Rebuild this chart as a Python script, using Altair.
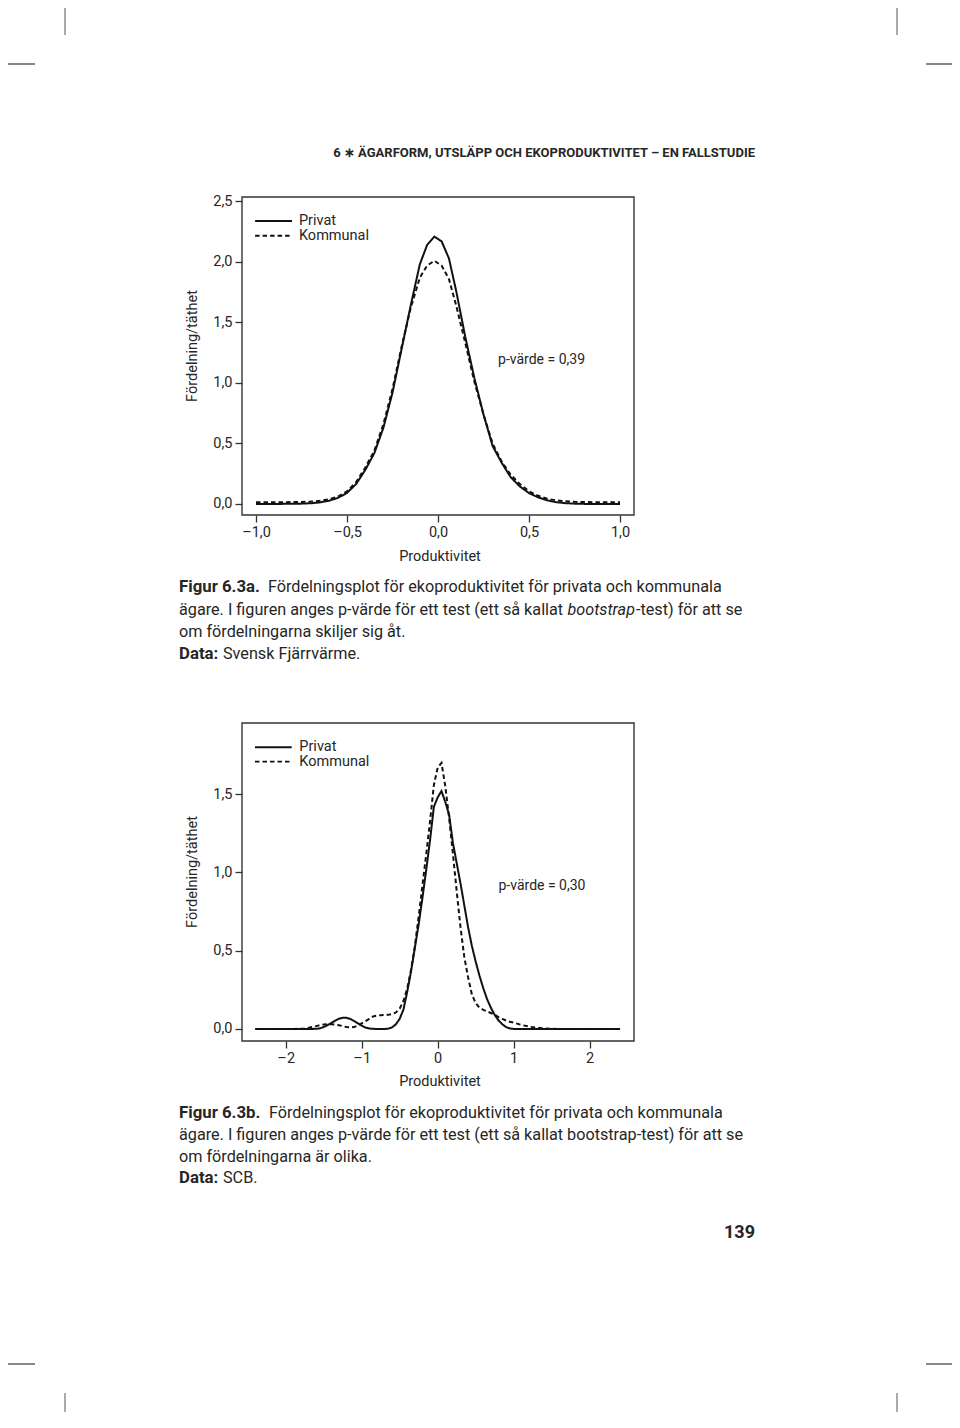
import altair as alt
import pandas as pd

# ---------------- data ----------------
series_names = ["Privat", "Kommunal"]

# Figure 6.3a
xa = [-1.0, -0.95, -0.9, -0.85, -0.8, -0.75, -0.7, -0.65, -0.6, -0.55, -0.5,
      -0.45, -0.4, -0.35, -0.3, -0.25, -0.2, -0.15, -0.1, -0.06, -0.02, 0.02,
      0.06, 0.1, 0.15, 0.2, 0.25, 0.3, 0.35, 0.4, 0.45, 0.5, 0.55, 0.6, 0.65,
      0.7, 0.75, 0.8, 0.85, 0.9, 0.95, 1.0]
privat_a = [0.0, 0.0, 0.0, 0.001, 0.001, 0.003, 0.006, 0.013, 0.027, 0.05, 0.092,
            0.165, 0.28, 0.42, 0.63, 0.92, 1.28, 1.64, 1.98, 2.14, 2.21, 2.17,
            2.03, 1.76, 1.38, 1.04, 0.74, 0.48, 0.34, 0.22, 0.145, 0.09, 0.055, 0.03, 0.015,
            0.007, 0.003, 0.001, 0.0, 0.0, 0.0, 0.0]
kommunal_a = [0.014, 0.014, 0.015, 0.015, 0.016, 0.017, 0.02, 0.026, 0.038, 0.06, 0.105,
              0.18, 0.30, 0.44, 0.66, 0.95, 1.30, 1.62, 1.87, 1.97, 2.01, 1.97,
              1.86, 1.64, 1.33, 1.01, 0.74, 0.50, 0.35, 0.24, 0.165, 0.105, 0.068, 0.043, 0.03,
              0.022, 0.018, 0.016, 0.015, 0.014, 0.014, 0.014]

# Figure 6.3b
xb = [-2.4, -2.2, -2.0, -1.9,
      -1.8, -1.75, -1.7, -1.65, -1.6, -1.55, -1.5, -1.45, -1.4, -1.35,
      -1.3, -1.25, -1.2, -1.15, -1.1, -1.05, -1.0, -0.95, -0.9, -0.85,
      -0.8, -0.75, -0.7, -0.65, -0.6, -0.55, -0.5, -0.45, -0.4, -0.35,
      -0.3, -0.25, -0.2, -0.15, -0.1, -0.05, 0.0, 0.05, 0.1, 0.15,
      0.2, 0.25, 0.3, 0.35, 0.4, 0.45, 0.5, 0.55, 0.6, 0.65,
      0.7, 0.75, 0.8, 0.85, 0.9, 0.95, 1.0,
      1.1, 1.2, 1.3, 1.4, 1.5, 1.6, 1.8, 2.0, 2.2, 2.4]
privat_b = [0.0, 0.0, 0.0, 0.0,
            0.0, 0.0, 0.0, 0.0, 0.001, 0.004, 0.012, 0.024, 0.038, 0.053,
            0.065, 0.071, 0.071, 0.064, 0.051, 0.036, 0.021, 0.009, 0.003, 0.001,
            0.0, 0.0, 0.0, 0.002, 0.01, 0.03, 0.065, 0.125, 0.24, 0.37,
            0.52, 0.67, 0.84, 1.02, 1.21, 1.42, 1.48, 1.52, 1.45, 1.37,
            1.19, 1.06, 0.93, 0.79, 0.65, 0.53, 0.43, 0.34, 0.26, 0.19,
            0.135, 0.09, 0.055, 0.03, 0.012, 0.003, 0.0,
            0.0, 0.0, 0.0, 0.0, 0.0, 0.0, 0.0, 0.0, 0.0, 0.0]
kommunal_b = [0.0, 0.0, 0.0, 0.0,
              0.001, 0.003, 0.007, 0.012, 0.018, 0.024, 0.028, 0.03, 0.03, 0.028,
              0.024, 0.018, 0.012, 0.01, 0.012, 0.022, 0.036, 0.05, 0.065, 0.08,
              0.085, 0.088, 0.09, 0.09, 0.095, 0.105, 0.13, 0.18, 0.26, 0.38,
              0.53, 0.72, 0.92, 1.12, 1.33, 1.56, 1.67, 1.70, 1.55, 1.35,
              1.12, 0.88, 0.65, 0.46, 0.33, 0.22, 0.165, 0.135, 0.122, 0.112,
              0.102, 0.09, 0.076, 0.064, 0.054, 0.046, 0.04,
              0.026, 0.015, 0.008, 0.004, 0.001, 0.0, 0.0, 0.0, 0.0, 0.0]

xticks_a = [-1.0, -0.5, 0.0, 0.5, 1.0]
yticks_a = [0.0, 0.5, 1.0, 1.5, 2.0, 2.5]
xticks_b = [-2, -1, 0, 1, 2]
yticks_b = [0.0, 0.5, 1.0, 1.5]
xdom_a = [-1.077, 1.077]
ydom_a = [-0.091, 2.537]
xdom_b = [-2.575, 2.583]
ydom_b = [-0.077, 1.955]
ptext_a = "p-värde = 0,39"
ptext_b = "p-värde = 0,30"

assert len(xa) == len(privat_a) == len(kommunal_a)
assert len(xb) == len(privat_b) == len(kommunal_b)

# ---------------- style / layout ----------------
FONT = "Roboto"
TXT = "#262626"
LINE = "#111111"
FRAME = "#333333"
DASH = [4.5, 3]
W, H = 944, 1404


def label_expr(dec):
    return ("(datum.value < 0 ? '–' : '') + "
            f"replace(format(abs(datum.value), '.{dec}f'), '.', ',')")


def long_df(x, a, b):
    return pd.DataFrame({
        "x": x + x,
        "y": a + b,
        "serie": [series_names[0]] * len(x) + [series_names[1]] * len(x),
    })


def panel(df, xdom, ydom, xrng, yrng, xticks, yticks, xdec, leg, ptxt, ppos):
    xs = alt.Scale(domain=xdom, range=xrng, nice=False, zero=False)
    ys = alt.Scale(domain=ydom, range=yrng, nice=False, zero=False)
    common = dict(grid=False, domain=False, ticks=True, tickSize=7, tickWidth=1.3,
                  tickColor=FRAME, labelFont=FONT, labelFontSize=14.5, labelColor=TXT,
                  title=None)
    xaxis = alt.Axis(orient="bottom", offset=yrng[0] - H, values=xticks,
                     labelExpr=label_expr(xdec), labelPadding=3, **common)
    yaxis = alt.Axis(orient="left", offset=-xrng[0], values=yticks,
                     labelExpr=label_expr(1), labelPadding=3, **common)

    def X(f):
        return alt.X(f, type="quantitative", scale=xs, axis=xaxis)

    def Y(f):
        return alt.Y(f, type="quantitative", scale=ys, axis=yaxis)

    dash = alt.StrokeDash("serie:N",
                          scale=alt.Scale(domain=series_names, range=[[1, 0], DASH]),
                          legend=None)

    frame_df = pd.DataFrame({"x0": [xdom[0]], "x1": [xdom[1]],
                             "y0": [ydom[0]], "y1": [ydom[1]]})
    frame = alt.Chart(frame_df).mark_rect(fillOpacity=0, stroke=FRAME, strokeWidth=1.4).encode(
        x=X("x0"), x2="x1", y=Y("y0"), y2="y1")

    lines = alt.Chart(df).mark_line(color=LINE, strokeWidth=2).encode(
        x=X("x"), y=Y("y"), strokeDash=dash)

    leg_df = pd.DataFrame({"serie": series_names,
                           "x0": [leg[0]] * 2, "x1": [leg[1]] * 2, "tx": [leg[2]] * 2,
                           "y": [leg[3], leg[4]]})
    leg_rules = alt.Chart(leg_df).mark_rule(color=LINE, strokeWidth=1.9).encode(
        x=X("x0"), x2="x1", y=Y("y"), strokeDash=dash)
    leg_text = alt.Chart(leg_df).mark_text(align="left", baseline="middle", font=FONT,
                                           fontSize=14.5, color=TXT).encode(
        x=X("tx"), y=Y("y"), text="serie:N")

    p_df = pd.DataFrame({"x": [ppos[0]], "y": [ppos[1]], "t": [ptxt]})
    p_text = alt.Chart(p_df).mark_text(align="left", baseline="middle", font=FONT,
                                       fontSize=14, color=TXT).encode(
        x=X("x"), y=Y("y"), text="t:N")

    return alt.layer(frame, lines, leg_rules, leg_text, p_text)


panel_a = panel(long_df(xa, privat_a, kommunal_a), xdom_a, ydom_a,
                [234, 626], [507, 189], xticks_a, yticks_a, 1,
                (-1.005, -0.802, -0.764, 2.339, 2.217), ptext_a, (0.33, 1.19))
panel_b = panel(long_df(xb, privat_b, kommunal_b), xdom_b, ydom_b,
                [234, 626], [1033, 715], xticks_b, yticks_b, 0,
                (-2.404, -1.921, -1.821, 1.80, 1.708), ptext_b, (0.80, 0.916))

one = pd.DataFrame({"k": [0]})


def txt(s, x, y, size=14, weight="normal", style="normal", align="left", angle=None):
    kw = dict(font=FONT, fontSize=size, color=TXT, align=align, baseline="middle",
              fontWeight=weight, fontStyle=style)
    if angle is not None:
        kw["angle"] = angle
    return alt.Chart(one).mark_text(**kw).encode(
        x=alt.value(x), y=alt.value(y), text=alt.value(s))


def rule(x, y, x2=None, y2=None, w=1.0, color="#555555"):
    enc = dict(x=alt.value(x), y=alt.value(y))
    if x2 is not None:
        enc["x2"] = alt.value(x2)
    if y2 is not None:
        enc["y2"] = alt.value(y2)
    return alt.Chart(one).mark_rule(strokeWidth=w, color=color).encode(**enc)


CAP = 16.2
BOLD = 16.8
deco = [
    # crop marks
    rule(57, 0, y2=27), rule(889, 0, y2=27),
    rule(0, 56, x2=27, w=2, color="#888888"), rule(918, 56, x2=944, w=2, color="#888888"),
    rule(0, 1356, x2=27, w=2, color="#888888"), rule(918, 1356, x2=944, w=2, color="#888888"),
    rule(57, 1385, y2=1404), rule(889, 1385, y2=1404),
    # running head
    txt("6 ∗ ÄGARFORM, UTSLÄPP OCH EKOPRODUKTIVITET – EN FALLSTUDIE", 747, 145,
        size=13, weight="bold", align="right"),
    # axis titles
    txt("Fördelning/täthet", 185, 338, size=14.5, align="center", angle=270),
    txt("Produktivitet", 432, 549, size=14.5, align="center"),
    txt("Fördelning/täthet", 185, 864, size=14.5, align="center", angle=270),
    txt("Produktivitet", 432, 1074, size=14.5, align="center"),
    # caption a
    txt("Figur 6.3a.", 171, 579, size=BOLD, weight="bold"),
    txt("Fördelningsplot för ekoproduktivitet för privata och kommunala", 260, 579, size=CAP),
    txt("ägare. I figuren anges p-värde för ett test (ett så kallat", 171, 602, size=CAP),
    txt("bootstrap", 559.5, 602, size=CAP, style="italic"),
    txt("-test) för att se", 628, 602, size=CAP),
    txt("om fördelningarna skiljer sig åt.", 171, 624, size=CAP),
    txt("Data:", 171, 646, size=BOLD, weight="bold"),
    txt("Svensk Fjärrvärme.", 215, 646, size=CAP),
    # caption b
    txt("Figur 6.3b.", 171, 1105, size=BOLD, weight="bold"),
    txt("Fördelningsplot för ekoproduktivitet för privata och kommunala", 261, 1105, size=CAP),
    txt("ägare. I figuren anges p-värde för ett test (ett så kallat bootstrap-test) för att se",
        171, 1127, size=CAP),
    txt("om fördelningarna är olika.", 171, 1149, size=CAP),
    txt("Data:", 171, 1170, size=BOLD, weight="bold"),
    txt("SCB.", 215, 1170, size=CAP),
    # page number
    txt("139", 747, 1225, size=18, weight="bold", align="right"),
]

chart = (
    alt.layer(panel_a, panel_b, *deco)
    .resolve_scale(x="independent", y="independent", strokeDash="independent")
    .resolve_axis(x="independent", y="independent")
    .properties(width=W, height=H, padding=0,
                autosize=alt.AutoSizeParams(type="none"),
                background="white")
    .configure_view(stroke=None)
)

chart.save("out.html", embed_options={"renderer": "svg", "actions": False})
